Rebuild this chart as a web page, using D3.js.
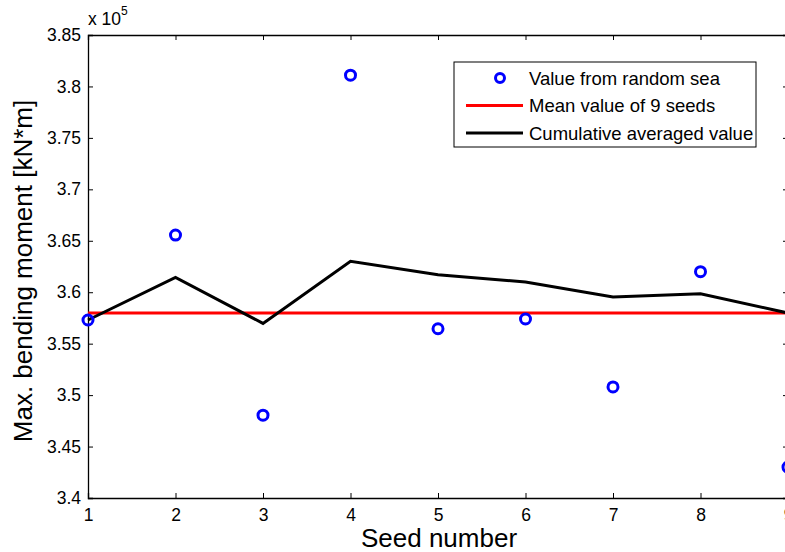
<!DOCTYPE html>
<html><head><meta charset="utf-8">
<script src="https://cdn.jsdelivr.net/npm/d3@7"></script>
<style>body{margin:0;background:#fff}svg{display:block;font-family:"Liberation Sans",Arial,sans-serif}</style>
</head><body><svg id="c" width="785" height="552"></svg>
<script>
const seeds = [1,2,3,4,5,6,7,8,9];
const randomSea = [3.573,3.6555,3.4805,3.811,3.5645,3.574,3.508,3.620,3.430];
const meanValue = 3.5798;
const cumulative = [3.573,3.6143,3.5697,3.630,3.6169,3.6100,3.5954,3.5985,3.5798];
const yTicks = [3.4,3.45,3.5,3.55,3.6,3.65,3.7,3.75,3.8,3.85];
const xTicks = [1,2,3,4,5,6,7,8,9];
const legendLabels = ["Value from random sea","Mean value of 9 seeds","Cumulative averaged value"];

const svg = d3.select("#c");
const L=88, R=788, T=35, B=498;
const x = d3.scaleLinear().domain([1,9]).range([L,R]);
const y = d3.scaleLinear().domain([3.4,3.85]).range([B,T]);

const fmt = d => d3.format("")(+d.toFixed(2));
const gx = svg.append("g").attr("transform",`translate(0,${B})`)
  .call(d3.axisBottom(x).tickValues(xTicks).tickSize(-5).tickPadding(11).tickFormat(d3.format("d")));
const gxt = svg.append("g").attr("transform",`translate(0,${T})`)
  .call(d3.axisTop(x).tickValues(xTicks).tickSize(-5).tickFormat(""));
const gy = svg.append("g").attr("transform",`translate(${L},0)`)
  .call(d3.axisLeft(y).tickValues(yTicks).tickSize(-5).tickPadding(7).tickFormat(fmt));
const gyr = svg.append("g").attr("transform",`translate(${R},0)`)
  .call(d3.axisRight(y).tickValues(yTicks).tickSize(-5).tickFormat(""));
[gx,gxt,gy,gyr].forEach(g=>{
  g.attr("font-size",null).attr("font-family",null);
  g.selectAll("path.domain").attr("stroke","#000").attr("stroke-width",1.3);
  g.selectAll(".tick line").attr("stroke","#000").attr("stroke-width",1);
  g.selectAll("text").attr("font-size",17.5).attr("fill","#000");
});
gx.selectAll("text").attr("dy","0.71em");

const ex = svg.append("text").attr("x",88).attr("y",25).attr("font-size",17.5).attr("fill","#000");
ex.append("tspan").text("x 10");
ex.append("tspan").text("5").attr("font-size",12).attr("dy",-10);

svg.append("text").attr("x",439).attr("y",547).attr("text-anchor","middle")
  .attr("font-size",26).attr("fill","#000").text("Seed number");
svg.append("text").attr("transform",`translate(32,271) rotate(-90)`).attr("text-anchor","middle")
  .attr("font-size",26).attr("fill","#000").text("Max. bending moment [kN*m]");

svg.append("line").attr("x1",x(1)).attr("x2",x(9)).attr("y1",y(meanValue)).attr("y2",y(meanValue))
  .attr("stroke","#ff0000").attr("stroke-width",3);
svg.append("path").datum(seeds.map((s,i)=>[s,cumulative[i]]))
  .attr("d",d3.line().x(d=>x(d[0])).y(d=>y(d[1])))
  .attr("fill","none").attr("stroke","#000").attr("stroke-width",3);
svg.selectAll("circle.m").data(seeds.map((s,i)=>[s,randomSea[i]])).enter().append("circle")
  .attr("class","m").attr("cx",d=>x(d[0])).attr("cy",d=>y(d[1])).attr("r",5)
  .attr("fill","none").attr("stroke","#0000ff").attr("stroke-width",3);

const lg = svg.append("g");
lg.append("rect").attr("x",454).attr("y",62).attr("width",302).attr("height",85)
  .attr("fill","#fff").attr("stroke","#000").attr("stroke-width",1);
const rows=[78,105.5,133];
lg.append("circle").attr("cx",500).attr("cy",rows[0]).attr("r",4.5).attr("fill","none")
  .attr("stroke","#0000ff").attr("stroke-width",3);
lg.append("line").attr("x1",466).attr("x2",523).attr("y1",rows[1]).attr("y2",rows[1])
  .attr("stroke","#ff0000").attr("stroke-width",3);
lg.append("line").attr("x1",466).attr("x2",523).attr("y1",rows[2]).attr("y2",rows[2])
  .attr("stroke","#000").attr("stroke-width",3);
legendLabels.forEach((t,i)=>{
  lg.append("text").attr("x",529).attr("y",rows[i]).attr("dy","0.36em")
    .attr("font-size",18.5).attr("fill","#000").text(t);
});
</script></body></html>
